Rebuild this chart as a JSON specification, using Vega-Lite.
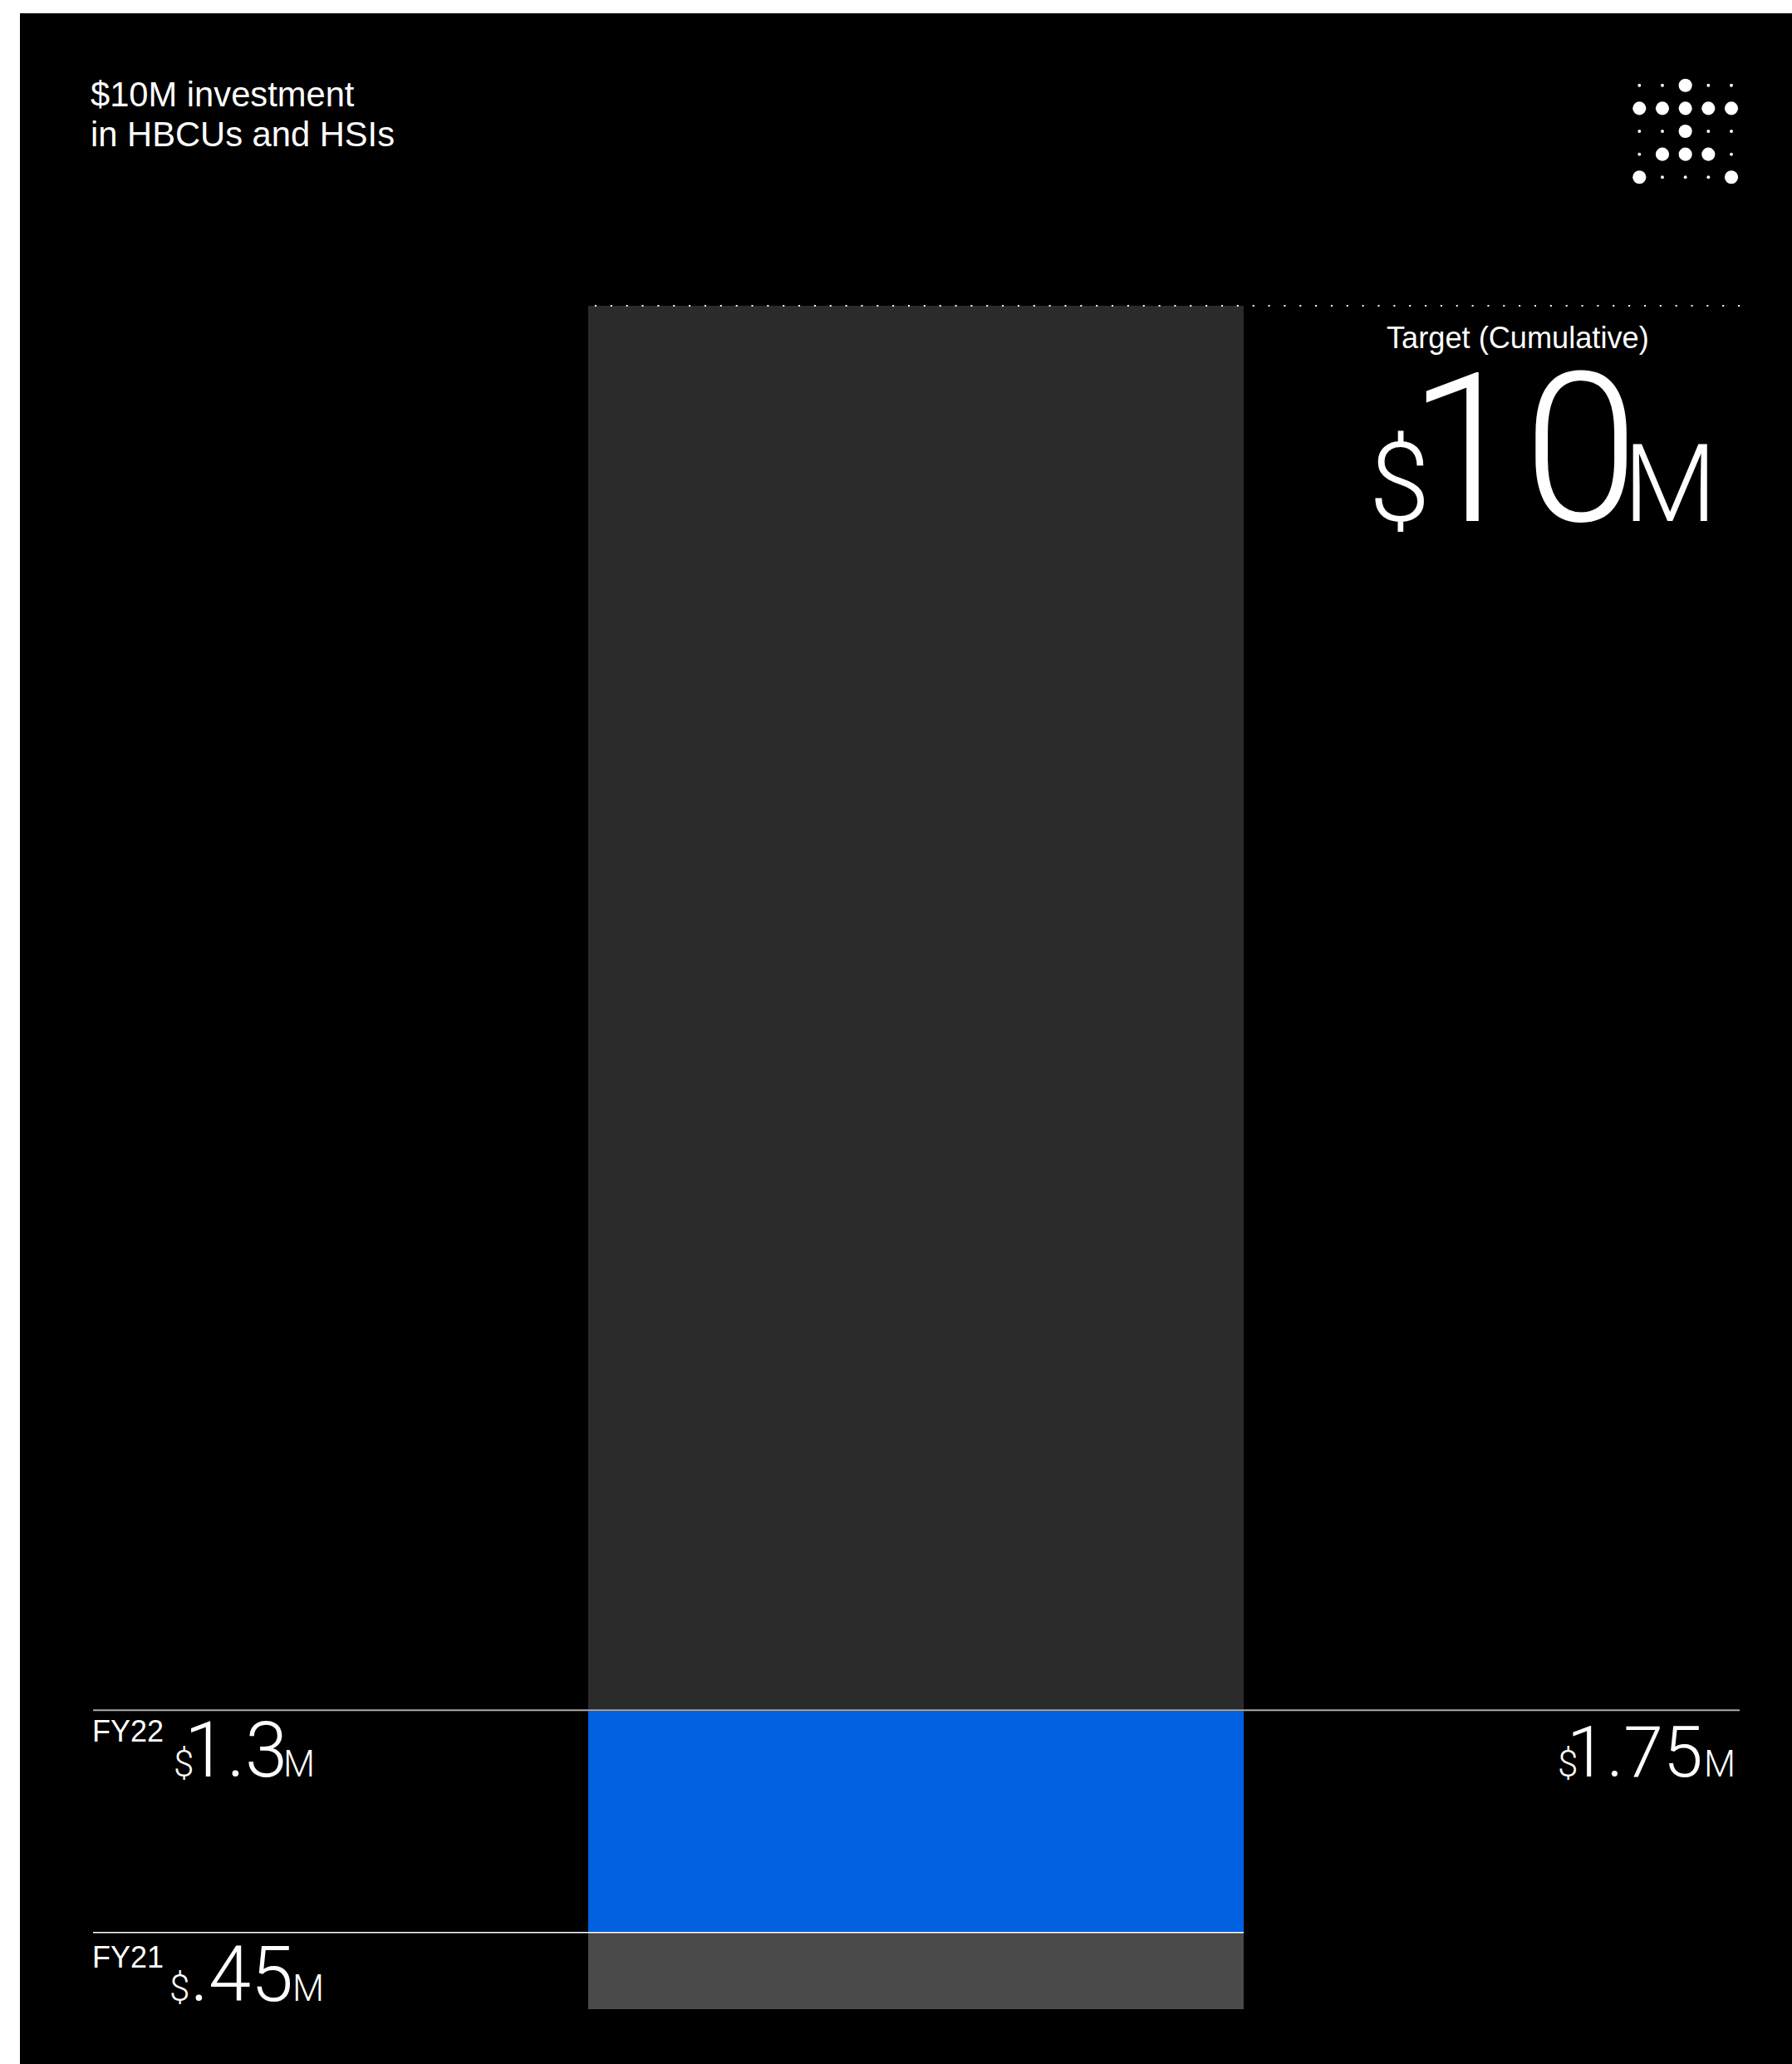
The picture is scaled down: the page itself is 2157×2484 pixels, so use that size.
{
  "$schema": "https://vega.github.io/schema/vega-lite/v6.json",
  "width": 2133,
  "height": 2468,
  "padding": {"left": 24, "top": 16, "right": 0, "bottom": 0},
  "autosize": "none",
  "background": "#ffffff",
  "config": {"view": {"fill": "#000000", "stroke": null}, "axis": {"disable": true}, "text": {"font": "Liberation Sans", "color": "#ffffff", "align": "left", "baseline": "alphabetic"}},
  "datasets": {
    "segments": [
      {"period": "FY21", "amount": 0.45, "start": 0, "end": 0.45, "figure": ".45", "currency": "$", "unit": "M"},
      {"period": "FY22", "amount": 1.3, "start": 0.45, "end": 1.75, "figure": "1.3", "currency": "$", "unit": "M"},
      {"period": "Target (Cumulative)", "amount": 10, "start": 1.75, "end": 10, "figure": "10", "currency": "$", "unit": "M"}
    ],
    "cumulative": [{"end": 1.75, "figure": "1.75", "currency": "$", "unit": "M"}],
    "heading": [{"text": "$10M investment\nin HBCUs and HSIs"}],
    "logo": [
      {"row": 1, "col": 1, "dot": "small"}, {"row": 1, "col": 2, "dot": "small"}, {"row": 1, "col": 3, "dot": "large"}, {"row": 1, "col": 4, "dot": "small"}, {"row": 1, "col": 5, "dot": "small"},
      {"row": 2, "col": 1, "dot": "large"}, {"row": 2, "col": 2, "dot": "large"}, {"row": 2, "col": 3, "dot": "large"}, {"row": 2, "col": 4, "dot": "large"}, {"row": 2, "col": 5, "dot": "large"},
      {"row": 3, "col": 1, "dot": "small"}, {"row": 3, "col": 2, "dot": "small"}, {"row": 3, "col": 3, "dot": "large"}, {"row": 3, "col": 4, "dot": "small"}, {"row": 3, "col": 5, "dot": "small"},
      {"row": 4, "col": 1, "dot": "small"}, {"row": 4, "col": 2, "dot": "large"}, {"row": 4, "col": 3, "dot": "large"}, {"row": 4, "col": 4, "dot": "large"}, {"row": 4, "col": 5, "dot": "small"},
      {"row": 5, "col": 1, "dot": "large"}, {"row": 5, "col": 2, "dot": "small"}, {"row": 5, "col": 3, "dot": "small"}, {"row": 5, "col": 4, "dot": "small"}, {"row": 5, "col": 5, "dot": "large"}
    ]
  },
  "layer": [
    {
      "layer": [
        {
          "data": {"name": "segments"},
          "mark": {"type": "rect"},
          "encoding": {
            "x": {"datum": 708, "type": "quantitative", "scale": {"domain": [24, 2157], "nice": false, "zero": false}},
            "x2": {"datum": 1497},
            "y": {"field": "start", "type": "quantitative", "scale": {"domain": [-0.322, 11.717], "nice": false, "zero": false}},
            "y2": {"field": "end"},
            "color": {"field": "period", "type": "nominal", "legend": null, "scale": {"domain": ["FY21", "FY22", "Target (Cumulative)"], "range": ["#4a4a4a", "#0060df", "#2b2b2b"]}}
          }
        },
        {
          "data": {"name": "segments"},
          "transform": [{"filter": "datum.period === 'Target (Cumulative)'"}],
          "mark": {"type": "rule", "color": "#ffffff", "strokeWidth": 2, "strokeDash": [2, 16.85]},
          "encoding": {"x": {"datum": 716, "type": "quantitative"}, "x2": {"datum": 2095}, "y": {"field": "end", "type": "quantitative"}}
        },
        {
          "data": {"name": "segments"},
          "transform": [{"filter": "datum.period === 'FY22'"}],
          "mark": {"type": "rule", "color": "#aaaaaa", "strokeWidth": 2},
          "encoding": {"x": {"datum": 112, "type": "quantitative"}, "x2": {"datum": 2094}, "y": {"field": "end", "type": "quantitative"}, "yOffset": {"value": -1}}
        },
        {
          "data": {"name": "segments"},
          "transform": [{"filter": "datum.period === 'FY21'"}],
          "mark": {"type": "rule", "color": "#ffffff", "strokeWidth": 1.5},
          "encoding": {"x": {"datum": 112, "type": "quantitative"}, "x2": {"datum": 1497}, "y": {"field": "end", "type": "quantitative"}}
        },
        {
          "data": {"name": "heading"},
          "mark": {"type": "text", "fontSize": 41.7, "lineBreak": "\n", "lineHeight": 47.5},
          "encoding": {"x": {"datum": 109, "type": "quantitative"}, "y": {"datum": 11.17, "type": "quantitative"}, "text": {"field": "text"}}
        },
        {
          "data": {"name": "segments"},
          "transform": [{"filter": "datum.period === 'Target (Cumulative)'"}],
          "mark": {"type": "text", "fontSize": 36.2, "dy": 51},
          "encoding": {"x": {"datum": 1669, "type": "quantitative"}, "y": {"field": "end", "type": "quantitative"}, "text": {"field": "period"}}
        },
        {
          "data": {"name": "segments"},
          "transform": [{"filter": "datum.period === 'Target (Cumulative)'"}],
          "mark": {"type": "text", "fontSize": 132, "dy": 259, "font": "Roboto", "fontWeight": 300},
          "encoding": {"x": {"datum": 1648, "type": "quantitative"}, "y": {"field": "end", "type": "quantitative"}, "text": {"field": "currency"}}
        },
        {
          "data": {"name": "segments"},
          "transform": [{"filter": "datum.period === 'Target (Cumulative)'"}],
          "mark": {"type": "text", "fontSize": 250, "dy": 259, "font": "Roboto", "fontWeight": 300},
          "encoding": {"x": {"datum": 1695, "type": "quantitative"}, "y": {"field": "end", "type": "quantitative"}, "text": {"field": "figure"}}
        },
        {
          "data": {"name": "segments"},
          "transform": [{"filter": "datum.period === 'Target (Cumulative)'"}],
          "mark": {"type": "text", "fontSize": 130, "dy": 259, "font": "Roboto", "fontWeight": 300},
          "encoding": {"x": {"datum": 1954, "type": "quantitative"}, "y": {"field": "end", "type": "quantitative"}, "text": {"field": "unit"}}
        },
        {
          "data": {"name": "segments"},
          "transform": [{"filter": "datum.period === 'FY22'"}],
          "mark": {"type": "text", "fontSize": 36, "dy": 37},
          "encoding": {"x": {"datum": 111, "type": "quantitative"}, "y": {"field": "end", "type": "quantitative"}, "text": {"field": "period"}}
        },
        {
          "data": {"name": "segments"},
          "transform": [{"filter": "datum.period === 'FY22'"}],
          "mark": {"type": "text", "fontSize": 44, "dy": 79, "font": "Roboto", "fontWeight": 300},
          "encoding": {"x": {"datum": 209, "type": "quantitative"}, "y": {"field": "end", "type": "quantitative"}, "text": {"field": "currency"}}
        },
        {
          "data": {"name": "segments"},
          "transform": [{"filter": "datum.period === 'FY22'"}],
          "mark": {"type": "text", "fontSize": 92, "dy": 79, "font": "Roboto", "fontWeight": 300},
          "encoding": {"x": {"datum": 222, "type": "quantitative"}, "y": {"field": "end", "type": "quantitative"}, "text": {"field": "figure"}}
        },
        {
          "data": {"name": "segments"},
          "transform": [{"filter": "datum.period === 'FY22'"}],
          "mark": {"type": "text", "fontSize": 44, "dy": 79, "font": "Roboto", "fontWeight": 300},
          "encoding": {"x": {"datum": 341, "type": "quantitative"}, "y": {"field": "end", "type": "quantitative"}, "text": {"field": "unit"}}
        },
        {
          "data": {"name": "segments"},
          "transform": [{"filter": "datum.period === 'FY21'"}],
          "mark": {"type": "text", "fontSize": 36, "dy": 42},
          "encoding": {"x": {"datum": 111, "type": "quantitative"}, "y": {"field": "end", "type": "quantitative"}, "text": {"field": "period"}}
        },
        {
          "data": {"name": "segments"},
          "transform": [{"filter": "datum.period === 'FY21'"}],
          "mark": {"type": "text", "fontSize": 44, "dy": 82, "font": "Roboto", "fontWeight": 300},
          "encoding": {"x": {"datum": 204, "type": "quantitative"}, "y": {"field": "end", "type": "quantitative"}, "text": {"field": "currency"}}
        },
        {
          "data": {"name": "segments"},
          "transform": [{"filter": "datum.period === 'FY21'"}],
          "mark": {"type": "text", "fontSize": 92, "dy": 82, "font": "Roboto", "fontWeight": 300},
          "encoding": {"x": {"datum": 229, "type": "quantitative"}, "y": {"field": "end", "type": "quantitative"}, "text": {"field": "figure"}}
        },
        {
          "data": {"name": "segments"},
          "transform": [{"filter": "datum.period === 'FY21'"}],
          "mark": {"type": "text", "fontSize": 44, "dy": 82, "font": "Roboto", "fontWeight": 300},
          "encoding": {"x": {"datum": 352, "type": "quantitative"}, "y": {"field": "end", "type": "quantitative"}, "text": {"field": "unit"}}
        },
        {
          "data": {"name": "cumulative"},
          "mark": {"type": "text", "fontSize": 44, "dy": 79, "font": "Roboto", "fontWeight": 300},
          "encoding": {"x": {"datum": 1875, "type": "quantitative"}, "y": {"field": "end", "type": "quantitative"}, "text": {"field": "currency"}}
        },
        {
          "data": {"name": "cumulative"},
          "mark": {"type": "text", "fontSize": 86, "dy": 79, "font": "Roboto", "fontWeight": 300},
          "encoding": {"x": {"datum": 1886, "type": "quantitative"}, "y": {"field": "end", "type": "quantitative"}, "text": {"field": "figure"}}
        },
        {
          "data": {"name": "cumulative"},
          "mark": {"type": "text", "fontSize": 44, "dy": 79, "font": "Roboto", "fontWeight": 300},
          "encoding": {"x": {"datum": 2051, "type": "quantitative"}, "y": {"field": "end", "type": "quantitative"}, "text": {"field": "unit"}}
        }
      ]
    },
    {
      "data": {"name": "logo"},
      "mark": {"type": "circle", "color": "#ffffff", "opacity": 1},
      "encoding": {
        "x": {"field": "col", "type": "quantitative", "scale": {"domain": [1, 5], "range": [1949.3, 2060], "nice": false, "zero": false}},
        "y": {"field": "row", "type": "quantitative", "scale": {"domain": [1, 5], "range": [86.7, 197.3], "nice": false, "zero": false}},
        "size": {"field": "dot", "type": "nominal", "legend": null, "scale": {"type": "ordinal", "domain": ["small", "large"], "range": [15, 260]}}
      }
    }
  ],
  "resolve": {"scale": {"x": "independent", "y": "independent"}}
}
